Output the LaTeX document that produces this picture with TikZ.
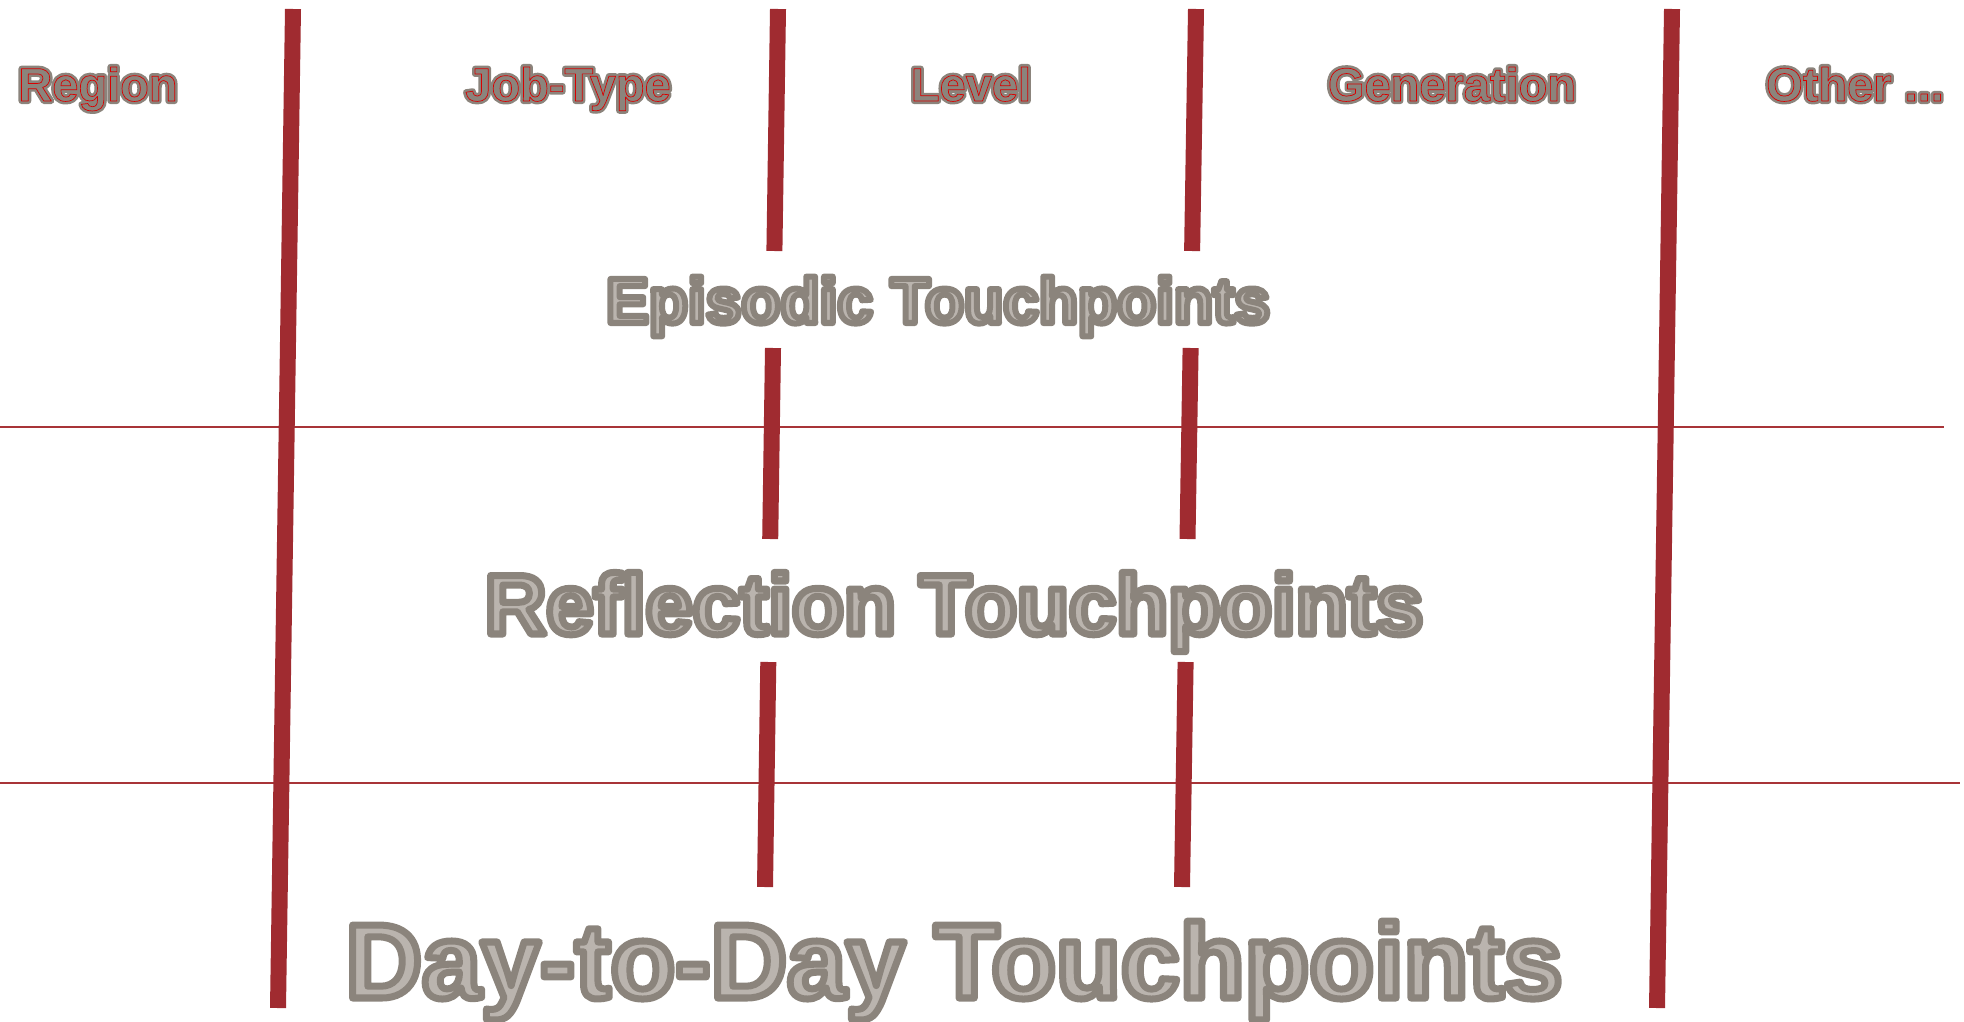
\documentclass[tikz,border=0pt]{standalone}
\usepackage{fontspec}
\setmainfont{Liberation Sans}

\definecolor{barred}{RGB}{160,43,48}
\definecolor{rulered}{RGB}{168,52,56}
\definecolor{textgrey}{RGB}{139,132,124}
\definecolor{textfill}{RGB}{186,180,174}

% Text drawn with a filled body and a stroked outline (PDF text render modes).
% #1 fill colour, #2 stroke colour as "r g b", #3 stroke width, #4 text
\newcommand\strokedtext[4]{{\color{#1}\special{pdf:literal direct #2 RG #3 w 1 j 2 Tr}#4\special{pdf:literal direct 0 Tr}}}
% Outline only, no fill
\newcommand\outlineonly[3]{{\special{pdf:literal direct #1 RG #2 w 1 j 1 Tr}#3\special{pdf:literal direct 0 Tr}}}
% Column heading: grey body with a heavy grey edge and a fine red contour
\newcommand\headlabel[1]{\rlap{\strokedtext{textgrey}{0.545 0.518 0.486}{6}{#1}}\outlineonly{0.85 0 0}{0.7}{#1}}
% Row title: light grey body with a grey edge
\newcommand\rowlabel[2]{\strokedtext{textfill}{0.545 0.518 0.486}{#1}{#2}}

\tikzset{
  divider/.style={line width=16pt, draw=barred},
  rowrule/.style={line width=2.5pt, draw=rulered},
  headtext/.style={anchor=base, inner sep=0pt, font=\bfseries\fontsize{47}{56}\selectfont},
  rowtext/.style={anchor=base, inner sep=0pt, font=\bfseries\fontsize{#1}{#1}\selectfont},
}

\begin{document}
\begin{tikzpicture}[x=1pt, y=-1pt]
  \useasboundingbox (0,0) rectangle (1964,1022);

  % horizontal rules between the rows
  \draw[rowrule] (0,427) -- (1944,427);
  \draw[rowrule] (0,783) -- (1960,783);

  % outer column dividers
  \draw[divider] (293,9) -- (278,1008);
  \draw[divider] (1672,9) -- (1657,1008);

  % inner column dividers, broken around the row titles
  \draw[divider] (778,9) -- (774.4,251);
  \draw[divider] (773.0,348) -- (770.2,539);
  \draw[divider] (768.3,662) -- (765,887);
  \draw[divider] (1196,9) -- (1192.1,251);
  \draw[divider] (1190.6,348) -- (1187.5,539);
  \draw[divider] (1185.6,662) -- (1182,887);

  % column headings
  \node[headtext] (region) at (98,101) {\headlabel{Region}};
  \node[headtext] (jobtype) at (568,101) {\headlabel{Job-Type}};
  \node[headtext] (level) at (971,101) {\headlabel{Level}};
  \node[headtext] (generation) at (1452,101) {\headlabel{Generation}};
  \node[headtext] (other) at (1855,101) {\headlabel{Other ...}};

  % row titles
  \node[rowtext=64] (episodic) at (938,323) {\rowlabel{6}{Episodic Touchpoints}};
  \node[rowtext=85] (reflection) at (954,634) {\rowlabel{7}{Reflection Touchpoints}};
  \node[rowtext=106] (daytoday) at (954,998) {\rowlabel{7}{Day-to-Day Touchpoints}};
\end{tikzpicture}
\end{document}
